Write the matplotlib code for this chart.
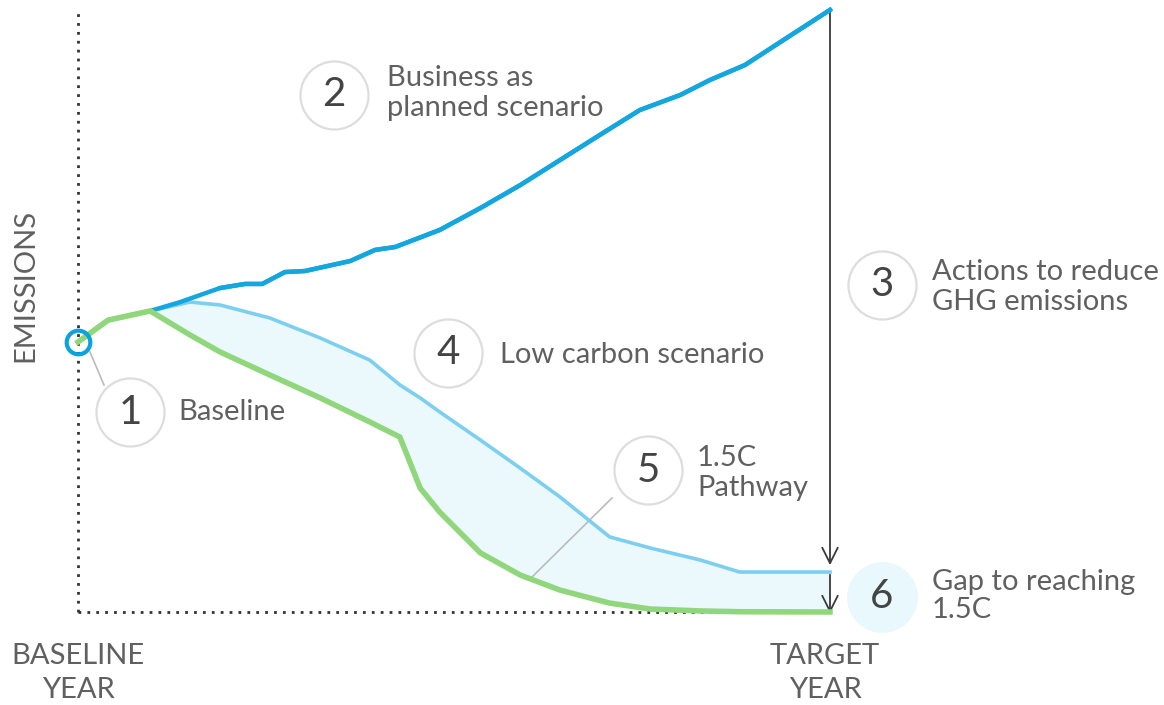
import numpy as np
import matplotlib
matplotlib.use('Agg')
import matplotlib.pyplot as plt

plt.rcParams['font.family'] = ['Lato', 'DejaVu Sans']

# emissions index (baseline year = 100), time as % of way to target year
bau_x = [0, 4, 9.6, 13.6, 18.9, 22.2, 24.5, 27.5, 30.2, 36.2, 39.5, 42.2, 48.1, 53.5,
         58.8, 64.1, 69.4, 74.7, 80.1, 84.0, 88.7, 93.4, 100]
bau_y = [100, 108.1, 111.5, 114.8, 120, 121.5, 121.5, 125.9, 126.3, 130, 134.1, 135.2,
         141.5, 149.6, 158.1, 167.4, 176.7, 185.9, 191.5, 197, 202.6, 211.1, 223]

path_x = [0, 4, 9.6, 14.9, 18.9, 25.5, 32.2, 38.8, 42.8, 45.5, 48.1, 53.5, 58.8, 64.1,
          70.7, 76.1, 82.7, 88, 100]
low_y = [100, 108.1, 111.5, 114.8, 113.7, 108.9, 101.5, 93.3, 84.1, 79.3, 74.1, 63.7,
         53.3, 42.6, 27.8, 23.7, 19.3, 14.8, 14.8]
green_y = [100, 108.1, 111.5, 102.6, 96.3, 87.8, 79.3, 70.4, 64.8, 45.9, 37, 21.9,
           13.7, 8.1, 3.3, 1.1, 0.4, 0.1, 0]

y_top = 223


def px(x):
    return (x - 78) / 7.52


def py(y):
    return (612 - y) / 2.7


fig = plt.figure(figsize=(11.64, 7.05), dpi=100)
ax = fig.add_axes([0, 0, 1, 1])
ax.set_xlim(px(0), px(1164))
ax.set_ylim(py(705), py(0))
ax.axis('off')

txt = '#606060'

# dotted axes
ax.plot([0, 0], [0, py(8)], ls=(0, (1, 2.2)), color='#333333', lw=2, zorder=1)
ax.plot([0, 100], [0, 0], ls=(0, (1, 2.2)), color='#333333', lw=2, zorder=1)

# gap fill and lines
ax.fill_between(path_x, green_y, low_y, color='#ebf9fd', zorder=2)
ax.plot(path_x, low_y, color='#7ccfef', lw=2.6, zorder=3)
ax.plot(bau_x, bau_y, color='#14a6df', lw=3.2, zorder=4)
ax.plot(path_x, green_y, color='#90d77c', lw=4, zorder=5)
ax.plot(bau_x[4:], bau_y[4:], color='#14a6df', lw=3.2, zorder=5)

# baseline marker
ax.plot(0, 100, 'o', ms=17, mfc='none', mec='#0aa3dd', mew=3, zorder=6)

# arrows
ax.annotate('', xy=(100, low_y[-1] + 1.5), xytext=(100, y_top),
            arrowprops=dict(arrowstyle='->', color='#3a3a3a', lw=1.3,
                            mutation_scale=28))
ax.annotate('', xy=(100, green_y[-1] - 1.5), xytext=(100, low_y[-1]),
            arrowprops=dict(arrowstyle='->', color='#3a3a3a', lw=1.3,
                            mutation_scale=28))

# leader lines
ax.plot([px(90), px(104)], [py(352), py(385)], color='#bbbbbb', lw=1.2)
ax.plot([px(612), px(532)], [py(498), py(577)], color='#bbbbbb', lw=1.2)

# numbered circles
circles = [(1, 130, 412), (2, 334, 95), (3, 882, 285), (4, 448, 353), (5, 648, 470)]
for n, cx, cy in circles:
    ax.plot(px(cx), py(cy), 'o', ms=49, mfc='white', mec='#dddddd', mew=1.6, zorder=7)
    ax.text(px(cx), py(cy), str(n), ha='center', va='center', fontsize=29,
            color='#444444', zorder=8)
ax.plot(px(882), py(597), 'o', ms=51, mfc='#e8f8fd', mec='none', zorder=7)
ax.text(px(882), py(597), '6', ha='center', va='center', fontsize=29,
        color='#444444', zorder=8)

fs = 21
ax.text(px(178), py(412), 'Baseline', fontsize=fs, color=txt, va='center')
ax.text(px(387), py(93), 'Business as\nplanned scenario', fontsize=fs, color=txt,
        va='center', linespacing=1.2)
ax.text(px(932), py(287), 'Actions to reduce\nGHG emissions', fontsize=fs, color=txt,
        va='center', linespacing=1.2)
ax.text(px(500), py(355), 'Low carbon scenario', fontsize=fs, color=txt, va='center')
ax.text(px(697), py(473), '1.5C\nPathway', fontsize=fs, color=txt, va='center',
        linespacing=1.2)
ax.text(px(932), py(596), 'Gap to reaching\n1.5C', fontsize=fs, color=txt,
        va='center', linespacing=1.1)

ax.text(px(25), py(285), 'EMISSIONS', fontsize=fs, color=txt, rotation=90,
        ha='center', va='center')
ax.text(px(78), py(673), 'BASELINE\nYEAR', fontsize=fs, color=txt, ha='center',
        va='center', linespacing=1.35)
ax.text(px(825), py(673), 'TARGET\nYEAR', fontsize=fs, color=txt, ha='center',
        va='center', linespacing=1.35)

fig.savefig('out.png', dpi=100)
